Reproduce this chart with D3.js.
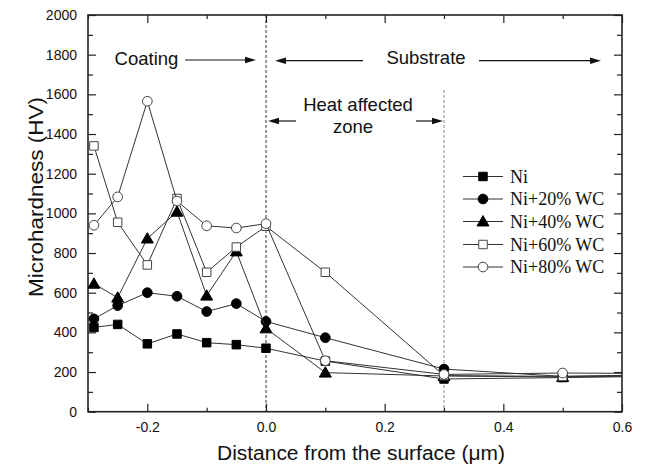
<!DOCTYPE html>
<html>
<head>
<meta charset="utf-8">
<script src="https://cdn.jsdelivr.net/npm/d3@7"></script>
<style>
  html, body { margin: 0; padding: 0; background: #fff; }
  svg { display: block; }
</style>
</head>
<body>
<svg id="chart" width="647" height="472"></svg>
<script>
// ---------------- data ----------------
const distances = [-0.29, -0.25, -0.2, -0.15, -0.1, -0.05, 0, 0.1, 0.3, 0.5, 0.7];
const ni    = [425, 440, 342, 392, 348, 338, 320, 255, 165, 172, 180];
const ni20  = [468, 535, 600, 582, 505, 545, 455, 373, 215, 178, 185];
const ni40  = [645, 575, 873, 1008, 585, 808, 420, 197, 180, 175, 182];
const ni60  = [1340, 955, 740, 1075, 703, 830, 935, 703, 182, 178, 188];
const ni80  = [940, 1083, 1565, 1062, 937, 926, 948, 257, 188, 195, 192];
const seriesNames = ["Ni", "Ni+20% WC", "Ni+40% WC", "Ni+60% WC", "Ni+80% WC"];
const seriesSymbols = ["square", "circle", "triangle", "square", "circle"];
const seriesFilled = [true, true, true, false, false];
const xTickValues = [-0.2, 0, 0.2, 0.4, 0.6];
const xTickLabels = ["-0.2", "0.0", "0.2", "0.4", "0.6"];
const xMinorTicks = [-0.3, -0.1, 0.1, 0.3, 0.5];
const yTickValues = [0, 200, 400, 600, 800, 1000, 1200, 1400, 1600, 1800, 2000];
const yMinorTicks = [100, 300, 500, 700, 900, 1100, 1300, 1500, 1700, 1900];
const boundaries = [0, 0.3];
const xTitle = "Distance from the surface (\u03bcm)";
const yTitle = "Microhardness (HV)";

const allSeries = [ni, ni20, ni40, ni60, ni80];

// ---------------- layout ----------------
const svg = d3.select("#chart");
const L = 88, R = 622, T = 15, B = 411.7;
const x = d3.scaleLinear().domain([-0.3, 0.6]).range([L, R]);
const y = d3.scaleLinear().domain([0, 2000]).range([B, T]);
const sans = "Arial, 'Liberation Sans', sans-serif";
const serif = "'Times New Roman', 'Liberation Serif', serif";
const ink = "#222";

svg.append("defs").append("clipPath").attr("id", "clip")
  .append("rect").attr("x", L).attr("y", T).attr("width", R - L).attr("height", B - T);

// boundary dashed lines
svg.append("line")
  .attr("x1", x(boundaries[0])).attr("x2", x(boundaries[0]))
  .attr("y1", T).attr("y2", B)
  .attr("stroke", "#333").attr("stroke-width", 1).attr("stroke-dasharray", "3,2");
svg.append("line")
  .attr("x1", x(boundaries[1])).attr("x2", x(boundaries[1]))
  .attr("y1", 90).attr("y2", B)
  .attr("stroke", "#888").attr("stroke-width", 1).attr("stroke-dasharray", "3,2");

// ---------------- axes ----------------
function styleAxis(g) {
  g.select(".domain").remove();
  g.selectAll(".tick line").attr("stroke", ink).attr("stroke-width", 1.2);
  g.selectAll(".tick text").attr("font-family", sans).attr("font-size", 14).attr("fill", "#111");
}
// bottom major
svg.append("g").attr("transform", `translate(0,${B})`)
  .call(d3.axisBottom(x).tickValues(xTickValues).tickSizeInner(-8).tickSizeOuter(0).tickPadding(10)
    .tickFormat((d, i) => xTickLabels[i]))
  .call(styleAxis);
// bottom minor
svg.append("g").attr("transform", `translate(0,${B})`)
  .call(d3.axisBottom(x).tickValues(xMinorTicks).tickSizeInner(-4).tickSizeOuter(0).tickFormat(""))
  .call(styleAxis);
// top major/minor
svg.append("g").attr("transform", `translate(0,${T})`)
  .call(d3.axisTop(x).tickValues(xTickValues).tickSizeInner(-8).tickSizeOuter(0).tickFormat(""))
  .call(styleAxis);
svg.append("g").attr("transform", `translate(0,${T})`)
  .call(d3.axisTop(x).tickValues(xMinorTicks).tickSizeInner(-4).tickSizeOuter(0).tickFormat(""))
  .call(styleAxis);
// left
svg.append("g").attr("transform", `translate(${L},0)`)
  .call(d3.axisLeft(y).tickValues(yTickValues).tickSizeInner(-8).tickSizeOuter(0).tickPadding(11)
    .tickFormat(d3.format("d")))
  .call(styleAxis);
svg.append("g").attr("transform", `translate(${L},0)`)
  .call(d3.axisLeft(y).tickValues(yMinorTicks).tickSizeInner(-5).tickSizeOuter(0).tickFormat(""))
  .call(styleAxis);
// right
svg.append("g").attr("transform", `translate(${R},0)`)
  .call(d3.axisRight(y).tickValues(yTickValues).tickSizeInner(-8).tickSizeOuter(0).tickFormat(""))
  .call(styleAxis);
svg.append("g").attr("transform", `translate(${R},0)`)
  .call(d3.axisRight(y).tickValues(yMinorTicks).tickSizeInner(-5).tickSizeOuter(0).tickFormat(""))
  .call(styleAxis);

// frame
svg.append("rect").attr("x", L).attr("y", T).attr("width", R - L).attr("height", B - T)
  .attr("fill", "none").attr("stroke", ink).attr("stroke-width", 1.6);

// axis titles
svg.append("text").attr("x", (L + R) / 2 + 6).attr("y", 460)
  .attr("text-anchor", "middle").attr("font-family", sans).attr("font-size", 20)
  .attr("textLength", 288).attr("lengthAdjust", "spacingAndGlyphs")
  .attr("fill", "#111").text(xTitle);
svg.append("text").attr("transform", "translate(43,197) rotate(-90)")
  .attr("text-anchor", "middle").attr("font-family", sans).attr("font-size", 20)
  .attr("textLength", 200).attr("lengthAdjust", "spacingAndGlyphs")
  .attr("fill", "#111").text(yTitle);

// ---------------- symbols ----------------
function symbolPath(kind) {
  if (kind === "square") return d3.symbol().type(d3.symbolSquare).size(72)();
  if (kind === "circle") return d3.symbol().type(d3.symbolCircle).size(74)();
  return d3.symbol().type(d3.symbolTriangle).size(62)();
}

const plot = svg.append("g").attr("clip-path", "url(#clip)");
const line = d3.line().x((d, i) => x(distances[i])).y(d => y(d));

allSeries.forEach((vals, si) => {
  plot.append("path").attr("d", line(vals))
    .attr("fill", "none").attr("stroke", "#333").attr("stroke-width", 1);
  plot.selectAll(null).data(vals).enter().append("path")
    .attr("d", symbolPath(seriesSymbols[si]))
    .attr("transform", (d, i) => `translate(${x(distances[i])},${y(d) + (seriesSymbols[si] === "triangle" ? 1 : 0)})`)
    .attr("fill", seriesFilled[si] ? "#000" : "#fff")
    .attr("stroke", seriesFilled[si] ? "#000" : "#444")
    .attr("stroke-width", 1);
});

// ---------------- legend ----------------
const legY = [176.5, 199, 221.5, 244.5, 267];
seriesNames.forEach((name, i) => {
  const g = svg.append("g");
  g.append("line").attr("x1", 463).attr("x2", 503).attr("y1", legY[i]).attr("y2", legY[i])
    .attr("stroke", "#333").attr("stroke-width", 1);
  g.append("path").attr("d", symbolPath(seriesSymbols[i]))
    .attr("transform", `translate(483,${legY[i] + (seriesSymbols[i] === "triangle" ? 1 : 0)})`)
    .attr("fill", seriesFilled[i] ? "#000" : "#fff")
    .attr("stroke", seriesFilled[i] ? "#000" : "#444").attr("stroke-width", 1);
  g.append("text").attr("x", 510).attr("y", legY[i] + 6)
    .attr("font-family", serif).attr("font-size", 18).attr("fill", "#111").text(name);
});

// ---------------- annotations ----------------
function arrow(x1, x2, yy) {
  svg.append("line").attr("x1", x1).attr("x2", x2 - Math.sign(x2 - x1) * 8).attr("y1", yy).attr("y2", yy)
    .attr("stroke", "#111").attr("stroke-width", 1.2);
  const d = Math.sign(x2 - x1);
  svg.append("path")
    .attr("d", `M${x2},${yy} L${x2 - d * 11},${yy - 3.2} L${x2 - d * 11},${yy + 3.2} Z`)
    .attr("fill", "#111");
}
function label(txt, cx, by) {
  svg.append("text").attr("x", cx).attr("y", by).attr("text-anchor", "middle")
    .attr("font-family", sans).attr("font-size", 18.5).attr("fill", "#111").text(txt);
}
label("Coating", 146.5, 64.5);
arrow(185, 256, 60);
label("Substrate", 426, 64);
arrow(363, 275, 60.7);
arrow(479, 601, 60.7);
label("Heat affected", 358, 110.5);
label("zone", 353, 133);
arrow(296, 268, 121);
arrow(416, 443, 121);
</script>
</body>
</html>
